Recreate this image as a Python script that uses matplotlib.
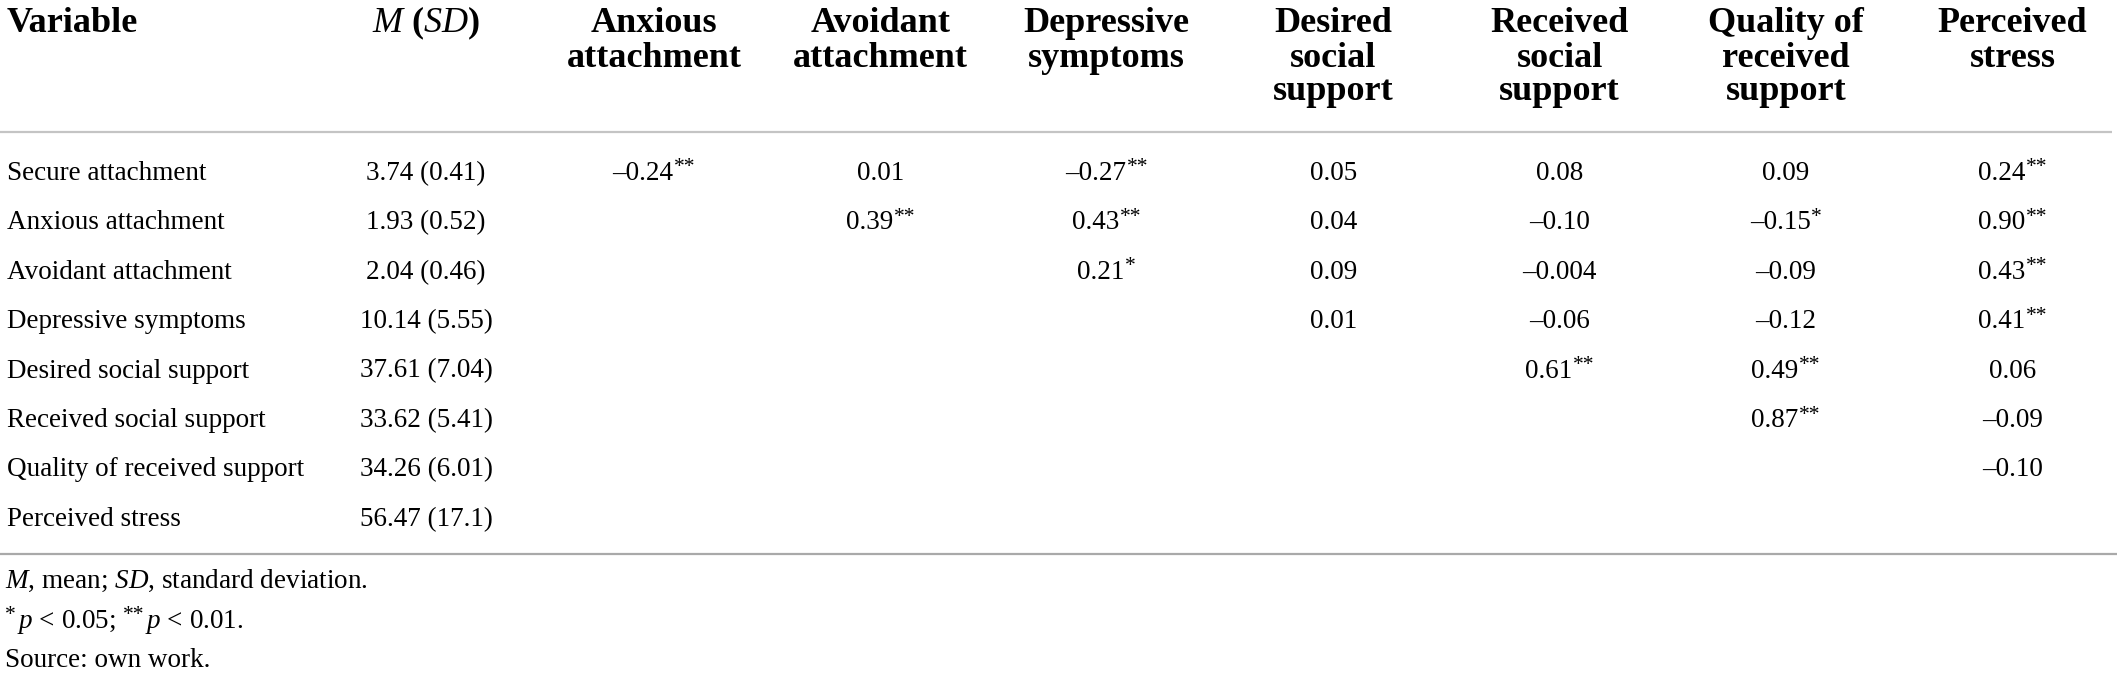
import matplotlib
matplotlib.use("Agg")
import matplotlib.pyplot as plt

# ── table content ────────────────────────────────────────────────────────────
variables = ["Secure attachment", "Anxious attachment", "Avoidant attachment",
             "Depressive symptoms", "Desired social support",
             "Received social support", "Quality of received support",
             "Perceived stress"]
means_sd = ["3.74 (0.41)", "1.93 (0.52)", "2.04 (0.46)", "10.14 (5.55)",
            "37.61 (7.04)", "33.62 (5.41)", "34.26 (6.01)", "56.47 (17.1)"]
col_headers = [["Anxious", "attachment"], ["Avoidant", "attachment"],
               ["Depressive", "symptoms"], ["Desired", "social", "support"],
               ["Received", "social", "support"],
               ["Quality of", "received", "support"], ["Perceived", "stress"]]
# correlation values (upper triangle), stars give significance
corr = [
    ["–0.24", "0.01", "–0.27", "0.05", "0.08", "0.09", "0.24"],
    ["", "0.39", "0.43", "0.04", "–0.10", "–0.15", "0.90"],
    ["", "", "0.21", "0.09", "–0.004", "–0.09", "0.43"],
    ["", "", "", "0.01", "–0.06", "–0.12", "0.41"],
    ["", "", "", "", "0.61", "0.49", "0.06"],
    ["", "", "", "", "", "0.87", "–0.09"],
    ["", "", "", "", "", "", "–0.10"],
    ["", "", "", "", "", "", ""],
]
stars = [
    ["**", "", "**", "", "", "", "**"],
    ["", "**", "**", "", "", "*", "**"],
    ["", "", "*", "", "", "", "**"],
    ["", "", "", "", "", "", "**"],
    ["", "", "", "", "**", "**", ""],
    ["", "", "", "", "", "**", ""],
    ["", "", "", "", "", "", ""],
    ["", "", "", "", "", "", ""],
]
note_defs = r"$\mathit{M}$, mean; $\mathit{SD}$, standard deviation."
note_p = [("*", r"$\mathit{p}$ < 0.05;"), ("**", r"$\mathit{p}$ < 0.01.")]
note_src = "Source: own work."

plt.rcParams["font.family"] = ["Liberation Serif", "DejaVu Serif"]
plt.rcParams["mathtext.fontset"] = "custom"
plt.rcParams["mathtext.rm"] = "Liberation Serif"
plt.rcParams["mathtext.it"] = "Liberation Serif:italic"
plt.rcParams["mathtext.bf"] = "Liberation Serif:bold"

W, H = 2117, 673
fig = plt.figure(figsize=(W / 100, H / 100), dpi=100)
ax = fig.add_axes([0, 0, 1, 1])
ax.set_xlim(0, W)
ax.set_ylim(H, 0)
ax.axis("off")
renderer = fig.canvas.get_renderer()

HEAD_FS = 26.0
BODY_FS = 19.5
STAR_FS = 15.5
STAR_RISE = 7.5
x_left = 7
x_msd = 426
x_cols = [654 + 226.4 * j for j in range(len(col_headers))]
head_base = [32, 67, 100]
row_base = [180 + 49.4 * i for i in range(len(variables))]


def width_of(t):
    return t.get_window_extent(renderer=renderer).width


def draw_runs(x, y, runs, ha="left"):
    """runs: list of (text, fontsize, rise, gap_before). Laid out left to right."""
    arts = []
    for s, fs, rise, gap in runs:
        t = ax.text(0, y - rise, s, fontsize=fs, ha="left", va="baseline")
        arts.append((t, gap, width_of(t)))
    total = sum(g + w for _, g, w in arts)
    cx = x - total / 2 if ha == "center" else x
    for t, g, w in arts:
        cx += g
        t.set_x(cx)
        cx += w


# space width for gaps between runs
_a = ax.text(0, 0, "a a", fontsize=BODY_FS)
_b = ax.text(0, 0, "aa", fontsize=BODY_FS)
SPACE = width_of(_a) - width_of(_b)
_a.remove()
_b.remove()

# header
ax.text(x_left, head_base[0], "Variable", fontsize=HEAD_FS, fontweight="bold",
        ha="left", va="baseline")
ax.text(x_msd, head_base[0], r"$\mathbf{\mathit{M}}$ ($\mathbf{\mathit{SD}}$)",
        fontsize=HEAD_FS, fontweight="bold", ha="center", va="baseline")
for xc, lines in zip(x_cols, col_headers):
    for k, line in enumerate(lines):
        ax.text(xc, head_base[k], line, fontsize=HEAD_FS, fontweight="bold",
                ha="center", va="baseline")

ax.plot([0, 2112], [132, 132], color="#c4c4c4", lw=1.6, solid_capstyle="butt")

# body
for i, (name, msd) in enumerate(zip(variables, means_sd)):
    y = row_base[i]
    ax.text(x_left, y, name, fontsize=BODY_FS, ha="left", va="baseline")
    ax.text(x_msd, y, msd, fontsize=BODY_FS, ha="center", va="baseline")
    for j, xc in enumerate(x_cols):
        v = corr[i][j]
        if not v:
            continue
        runs = [(v, BODY_FS, 0, 0)]
        if stars[i][j]:
            runs.append((stars[i][j], STAR_FS, STAR_RISE, 0.5))
        draw_runs(xc, y, runs, ha="center")

ax.plot([0, 2117], [554, 554], color="#a9a9a9", lw=1.6, solid_capstyle="butt")

# footnotes
x_note = 5
ax.text(x_note, 588, note_defs, fontsize=BODY_FS, ha="left", va="baseline")
runs = []
for k, (st, txt) in enumerate(note_p):
    runs.append((st, STAR_FS, STAR_RISE, SPACE if k else 0))
    runs.append((txt, BODY_FS, 0, 1))
draw_runs(x_note, 628, runs)
ax.text(x_note, 667, note_src, fontsize=BODY_FS, ha="left", va="baseline")

fig.savefig("out.png", dpi=100)
